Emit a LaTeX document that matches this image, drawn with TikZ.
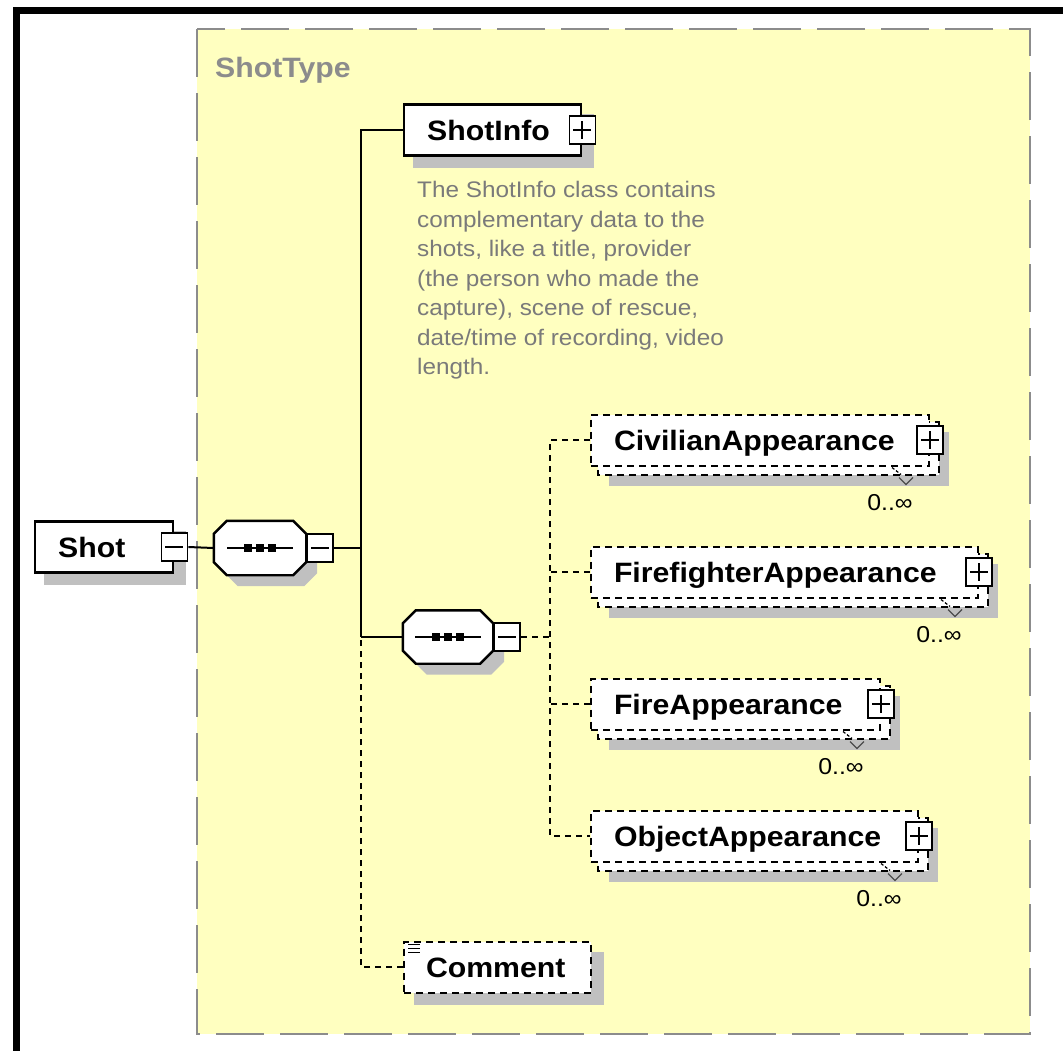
\documentclass[tikz,border=0pt]{standalone}
\usepackage{fontspec}
\setmainfont{Liberation Sans}
\newfontfamily\labelfont[FakeStretch=1.08]{Liberation Sans}
\usetikzlibrary{calc}

\pgfdeclarelayer{pane}
\pgfdeclarelayer{shade}
\pgfdeclarelayer{stack}
\pgfdeclarelayer{wires}
\pgfsetlayers{pane,shade,stack,wires,main}

\definecolor{paneyellow}{HTML}{FFFFC0}
\definecolor{panegray}{HTML}{8C8C8C}
\definecolor{shadowgray}{HTML}{C0C0C0}
\definecolor{doctext}{HTML}{7A7A7A}

% octagon outline of a sequence compositor, optionally shifted (for its shadow)
\newcommand\octpath[2]{($(#1.north west)+(13+#2,#2)$) -- ($(#1.north east)+(-13+#2,#2)$) -- ($(#1.north east)+(#2,13+#2)$) -- ($(#1.south east)+(#2,-13+#2)$) -- ($(#1.south east)+(-13+#2,#2)$) -- ($(#1.south west)+(13+#2,#2)$) -- ($(#1.south west)+(#2,-13+#2)$) -- ($(#1.north west)+(#2,13+#2)$) -- cycle}
% the three dots of a sequence compositor
\newcommand\seqdots[1]{%
  \draw[line width=2pt] ($(#1.center)+(-33,0)$) -- ($(#1.center)+(33,0)$);
  \foreach \dx in {-12,0,12} \fill ($(#1.center)+(\dx-4,-4)$) rectangle ++(8,8);}
% small occurrence tick under a repeated element
\newcommand\occmark[1]{%
  \draw[line width=1.2pt, dash pattern=on 3pt off 2pt] ($(#1.south east)+(-38,1)$) -- ++(9,7);
  \draw[line width=1.2pt, black!70] ($(#1.south east)+(-31,11)$) -- ++(7,7) -- ++(7,-7);}

\begin{document}
\begin{tikzpicture}[x=1pt, y=-1pt,
  namefont/.style={font=\labelfont\bfseries\fontsize{28}{30}\selectfont},
  elem/.style={namefont, fill=white, minimum height=51pt, inner xsep=23pt, inner ysep=0pt,
    text height=20pt, text depth=0pt, anchor=west, align=left, text width=#1},
  reqbox/.style={elem=#1, draw=black, line width=2.4pt},
  optbox/.style={elem=#1, draw=black, line width=2pt, dash pattern=on 7pt off 5pt},
  optline/.style={draw=black, line width=2pt, dash pattern=on 7pt off 5pt},
  seqbox/.style={draw=none, inner sep=0pt, minimum width=#1},
  togglebox/.style={draw=black, fill=white, line width=1.8pt, minimum width=26pt,
    minimum height=28pt, inner sep=0pt},
  plusbox/.style={togglebox, path picture={
    \draw[line width=2pt] ($(path picture bounding box.center)+(-9,0)$) -- ++(18,0)
      ($(path picture bounding box.center)+(0,-9)$) -- ++(0,18);}},
  minusbox/.style={togglebox, path picture={
    \draw[line width=2pt] ($(path picture bounding box.center)+(-9,0)$) -- ++(18,0);}},
  wire/.style={line width=2pt},
  dwire/.style={line width=2pt, dash pattern=on 6pt off 5pt},
  occurs/.style={font=\labelfont\fontsize{23}{25}\selectfont, anchor=base, inner sep=0pt},
  doc/.style={font=\labelfont\fontsize{22.5}{29.5}\selectfont, text=doctext, align=left, inner sep=0pt},
  typename/.style={font=\labelfont\bfseries\fontsize{28}{30}\selectfont, text=panegray, inner sep=0pt}
]
\useasboundingbox (0,0) rectangle (1063,1050);

% ---------- elements ----------
\node[typename, anchor=base west] (typelbl) at (215,77) {ShotType};

\node[reqbox=92pt] (shot) at (34,547) {Shot};
\node[minusbox] (shotM) at (shot.east) {};

\node[seqbox=92pt, minimum height=54pt] (seq1) at (260,548) {};
\draw[line width=2.4pt, fill=white] \octpath{seq1}{0};
\seqdots{seq1}
\node[minusbox, anchor=west] (seq1M) at (seq1.east) {};

\node[reqbox=131pt] (info) at (403,130) {ShotInfo};
\node[plusbox] (infoP) at (info.east) {};
\node[doc, anchor=north west] (infodoc) at (417,181) {The ShotInfo class contains\\complementary data to the\\shots, like a title, provider\\(the person who made the\\capture), scene of rescue,\\date/time of recording, video\\length.};

\node[seqbox=90pt, minimum height=53pt] (seq2) at (448,637) {};
\draw[line width=2.4pt, fill=white] \octpath{seq2}{0};
\seqdots{seq2}
\node[minusbox, anchor=west] (seq2M) at (seq2.east) {};

\node[optbox=292pt] (civ) at (590,440) {CivilianAppearance};
\node[plusbox] (civP) at (civ.east) {};
\node[occurs] (civN) at ($(civ.south east)+(-40,44)$) {0..∞};
\occmark{civ}

\node[optbox=341pt] (fight) at (590,572) {FirefighterAppearance};
\node[plusbox] (fightP) at (fight.east) {};
\node[occurs] (fightN) at ($(fight.south east)+(-40,44)$) {0..∞};
\occmark{fight}

\node[optbox=243pt] (fire) at (590,704) {FireAppearance};
\node[plusbox] (fireP) at (fire.east) {};
\node[occurs] (fireN) at ($(fire.south east)+(-40,44)$) {0..∞};
\occmark{fire}

\node[optbox=281pt] (obj) at (590,836) {ObjectAppearance};
\node[plusbox] (objP) at (obj.east) {};
\node[occurs] (objN) at ($(obj.south east)+(-40,44)$) {0..∞};
\occmark{obj}

\node[optbox=143pt, inner xsep=22pt] (comment) at (403,967) {Comment};
\foreach \dy in {4,8,12}
  \draw[line width=1.5pt] ($(comment.north west)+(5,\dy)$) -- ++(12,0);

% ---------- connectors ----------
\coordinate (trunk) at (361,548);
\coordinate (trunk2) at (361,637);
\coordinate (hub) at (550,637);
\begin{pgfonlayer}{wires}
  \draw[wire] (shotM.east) -- (seq1.west);
  \draw[wire] (seq1M.east) -- (trunk);
  \draw[wire] (info.west) -| (trunk2);
  \draw[wire] (seq2.west) -- (trunk2);
  \draw[dwire] (comment.west) -| (trunk2);
  \draw[dwire] (seq2M.east) -- (hub);
  \draw[dwire] (civ.west) -- (civ.west -| hub) -- (obj.west -| hub) -- (obj.west);
  \draw[dwire] (fight.west) -- (fight.west -| hub);
  \draw[dwire] (fire.west) -- (fire.west -| hub);
\end{pgfonlayer}

% ---------- stacked copies of repeated elements ----------
\begin{pgfonlayer}{stack}
  \foreach \n in {civ,fight,fire,obj}
    \draw[optline, fill=white] ($(\n.north west)+(8,8)$) rectangle ($(\n.south east)+(9,8)$);
\end{pgfonlayer}

% ---------- shadows ----------
\begin{pgfonlayer}{shade}
  \fill[shadowgray] ($(shot.north west)+(10,11)$) rectangle ($(shot.south east)+(12,11)$);
  \fill[shadowgray] ($(info.north west)+(10,11)$) rectangle ($(info.south east)+(12,11)$);
  \fill[shadowgray] ($(comment.north west)+(11,11)$) rectangle ($(comment.south east)+(12,11)$);
  \fill[shadowgray] \octpath{seq1}{11};
  \fill[shadowgray] \octpath{seq2}{11};
  \foreach \n in {civ,fight,fire,obj}
    \fill[shadowgray] ($(\n.north west)+(19,18)$) rectangle ($(\n.south east)+(19,19)$);
\end{pgfonlayer}

% ---------- type pane and frame ----------
\begin{pgfonlayer}{pane}
  \fill[white] (0,0) rectangle (1063,1050);
  \draw[line width=7pt] (16.5,1060) -- (16.5,10.5) -- (1070,10.5);
  \draw[fill=paneyellow, draw=panegray, line width=2.5pt, dash pattern=on 48pt off 16pt]
    (197,29) rectangle (1030,1034);
\end{pgfonlayer}
\end{tikzpicture}
\end{document}
